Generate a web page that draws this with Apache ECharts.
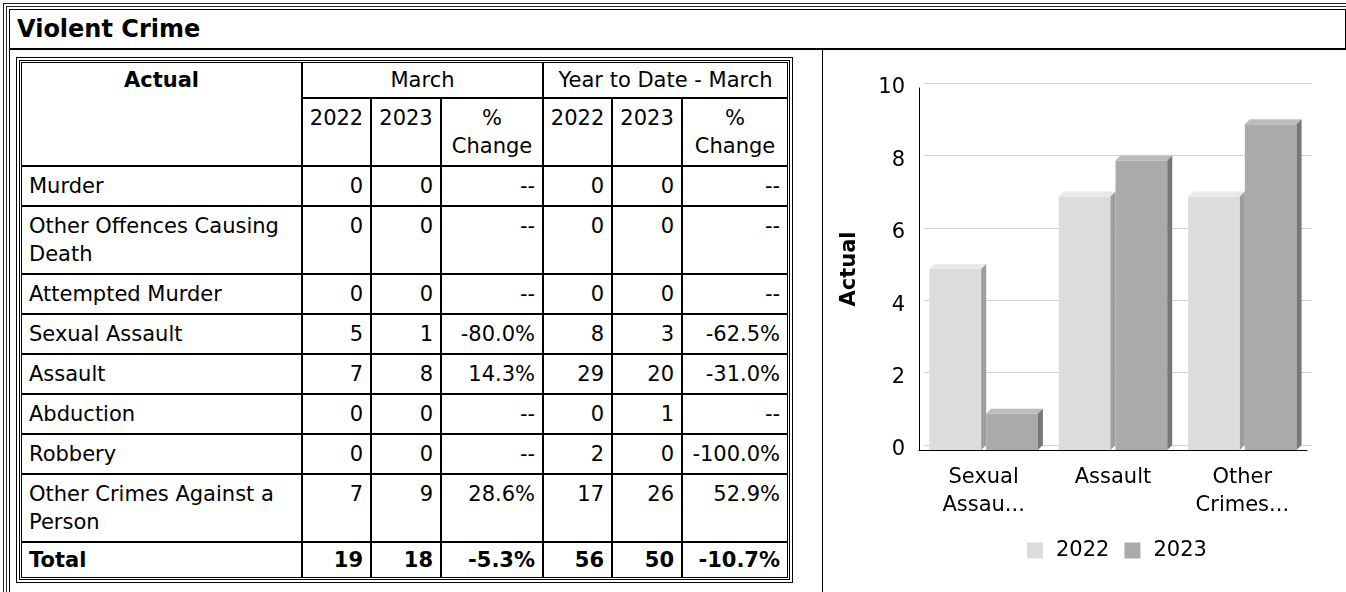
<!DOCTYPE html>
<html>
<head>
<meta charset="utf-8">
<script src="https://cdn.jsdelivr.net/npm/echarts@6/dist/echarts.min.js"></script>
<style>
html, body { margin: 0; padding: 0; background: #fff; overflow: hidden; }
body { font-family: "DejaVu Sans", Verdana, sans-serif; font-size: 21px; color: #000; width: 1346px; height: 592px; position: relative; }
.ln { position: absolute; border: 1px solid #222; box-sizing: border-box; }
#f1 { left: 3px; top: 3px; width: 1400px; height: 700px; }
#f2 { left: 6px; top: 6px; width: 1400px; height: 700px; }
#ttl { position: absolute; left: 9px; top: 9px; width: 1337px; height: 41px; border: 1px solid #000; border-bottom-width: 2px;
  box-sizing: border-box; font-weight: bold; font-size: 24px; line-height: 38px; padding-left: 7px; }
#lc { left: 9px; top: 49px; width: 814px; height: 600px; border-color: #000; }
#rc { left: 822px; top: 49px; width: 540px; height: 600px; border-color: #000; }
#tbl { position: absolute; left: 16px; top: 57px; border: 4px double #000; border-collapse: separate; border-spacing: 0;
  padding: 1px; table-layout: fixed; width: 777px; }
#tbl td { border: 1px solid #000; padding: 5px 7px; line-height: 28px; vertical-align: top; overflow: visible; }
#tbl tr.h1 td, #tbl tr.tot td { padding-top: 3px; padding-bottom: 3px; }
#tbl tr.tot td { font-weight: bold; }
#tbl td.n { text-align: right; padding-left: 0; white-space: nowrap; }
#tbl td.c { text-align: center; padding-left: 2px; padding-right: 2px; }
#chart { position: absolute; left: 824px; top: 51px; width: 522px; height: 541px; }
</style>
</head>
<body>
<div class="ln" id="f1"></div>
<div class="ln" id="f2"></div>
<div id="ttl">Violent Crime</div>
<div class="ln" id="lc"></div>
<div class="ln" id="rc"></div>
<table id="tbl">
  <colgroup>
    <col style="width:281px"><col style="width:69px"><col style="width:70px"><col style="width:102px">
    <col style="width:69px"><col style="width:70px"><col style="width:106px">
  </colgroup>
  <tbody id="tb"></tbody>
</table>
<div id="chart"></div>
<script>
// table data
var rowNames = ['Murder', 'Other Offences Causing Death', 'Attempted Murder', 'Sexual Assault', 'Assault',
  'Abduction', 'Robbery', 'Other Crimes Against a Person'];
var march2022 = [0, 0, 0, 5, 7, 0, 0, 7];
var march2023 = [0, 0, 0, 1, 8, 0, 0, 9];
var marchChange = ['--', '--', '--', '-80.0%', '14.3%', '--', '--', '28.6%'];
var ytd2022 = [0, 0, 0, 8, 29, 0, 2, 17];
var ytd2023 = [0, 0, 0, 3, 20, 1, 0, 26];
var ytdChange = ['--', '--', '--', '-62.5%', '-31.0%', '--', '-100.0%', '52.9%'];
var totalRow = ['Total', 19, 18, '-5.3%', 56, 50, '-10.7%'];

// chart data
var categories = ['Sexual Assault', 'Assault', 'Other Crimes Against a Person'];
var categoryLabels = ['Sexual\nAssau...', 'Assault', 'Other\nCrimes...'];
var seriesNames = ['2022', '2023'];
var values2022 = [5, 7, 7];
var values2023 = [1, 8, 9];
var yMin = 0, yMax = 10, yStep = 2;

var html = '';
html += '<tr class="h1"><td rowspan="2" class="c" style="font-weight:bold">Actual</td>' +
  '<td colspan="3" class="c">March</td><td colspan="3" class="c">Year to Date - March</td></tr>';
html += '<tr><td class="c">2022</td><td class="c">2023</td><td class="c">%<br>Change</td>' +
  '<td class="c">2022</td><td class="c">2023</td><td class="c">%<br>Change</td></tr>';
for (var i = 0; i < rowNames.length; i++) {
  html += '<tr><td>' + rowNames[i] + '</td><td class="n">' + march2022[i] + '</td><td class="n">' + march2023[i] +
    '</td><td class="n">' + marchChange[i] + '</td><td class="n">' + ytd2022[i] + '</td><td class="n">' + ytd2023[i] +
    '</td><td class="n">' + ytdChange[i] + '</td></tr>';
}
html += '<tr class="tot"><td>' + totalRow[0] + '</td>';
for (var t = 1; t < totalRow.length; t++) {
  html += '<td class="n">' + totalRow[t] + '</td>';
}
html += '</tr>';
document.getElementById('tb').innerHTML = html;

var colors = [
  ['#dcdcdc', '#e9e9e9', '#9d9d9d'],
  ['#aaaaaa', '#bcbcbc', '#777777']
];

function boxRenderer(idx) {
  var c = colors[idx];
  return function (params, api) {
    var cat = api.value(0);
    var base = api.coord([cat, 0]);
    var top = api.coord([cat, api.value(1)]);
    var band = api.size([1, 0])[0];
    var w = band * 0.4, d = 5;
    var x0 = base[0] - w - d / 2 + idx * (w + d);
    var y0 = base[1], y1 = top[1];
    return {
      type: 'group',
      children: [
        { type: 'rect', shape: { x: x0, y: y1, width: w, height: y0 - y1 }, style: { fill: c[0] } },
        { type: 'polygon', shape: { points: [[x0, y1], [x0 + d, y1 - d], [x0 + w + d, y1 - d], [x0 + w, y1]] }, style: { fill: c[1] } },
        { type: 'polygon', shape: { points: [[x0 + w, y1], [x0 + w + d, y1 - d], [x0 + w + d, y0 - d], [x0 + w, y0]] }, style: { fill: c[2] } }
      ]
    };
  };
}

function toPairs(arr) {
  var out = [];
  for (var k = 0; k < arr.length; k++) out.push([k, arr[k]]);
  return out;
}

var font = '"DejaVu Sans", Verdana, sans-serif';
var chart = echarts.init(document.getElementById('chart'), null, { renderer: 'canvas' });
chart.setOption({
  animation: false,
  textStyle: { fontFamily: font, fontSize: 21, color: '#000' },
  grid: [
    { left: 95, right: 39, top: 37, bottom: 142 },
    { left: 100, right: 34, top: 32, bottom: 147 }
  ],
  legend: {
    left: 198, top: 484,
    itemWidth: 16, itemHeight: 16, itemGap: 15,
    icon: 'rect',
    textStyle: { fontFamily: font, fontSize: 21, color: '#000', padding: [0, 0, 0, 8] },
    data: seriesNames
  },
  xAxis: [
    {
      type: 'category', gridIndex: 0, data: categories,
      axisLine: { lineStyle: { color: '#000', width: 1 } },
      axisTick: { show: false },
      axisLabel: {
        margin: 14, fontFamily: font, fontSize: 21, lineHeight: 28, color: '#000',
        formatter: function (v, i) { return categoryLabels[i]; }
      }
    },
    { type: 'category', gridIndex: 1, data: categories, show: false }
  ],
  yAxis: [
    {
      type: 'value', gridIndex: 0, min: yMin, max: yMax, interval: yStep,
      name: 'Actual', nameLocation: 'middle', nameGap: 59,
      nameTextStyle: { fontFamily: font, fontSize: 21, fontWeight: 'bold', color: '#000' },
      axisLine: { show: true, lineStyle: { color: '#000', width: 1 } },
      axisTick: { show: false },
      splitLine: { show: false },
      axisLabel: { margin: 14, fontFamily: font, fontSize: 21, color: '#000', padding: [8, 0, 0, 0] }
    },
    {
      type: 'value', gridIndex: 1, min: yMin, max: yMax, interval: yStep,
      axisLine: { show: false }, axisTick: { show: false }, axisLabel: { show: false },
      splitLine: { show: true, lineStyle: { color: '#d4d4d4', width: 1 } }
    }
  ],
  series: [
    {
      name: seriesNames[0], type: 'custom', xAxisIndex: 0, yAxisIndex: 0,
      itemStyle: { color: colors[0][0] },
      renderItem: boxRenderer(0), encode: { x: 0, y: 1 }, data: toPairs(values2022)
    },
    {
      name: seriesNames[1], type: 'custom', xAxisIndex: 0, yAxisIndex: 0,
      itemStyle: { color: colors[1][0] },
      renderItem: boxRenderer(1), encode: { x: 0, y: 1 }, data: toPairs(values2023)
    }
  ]
});
</script>
</body>
</html>
